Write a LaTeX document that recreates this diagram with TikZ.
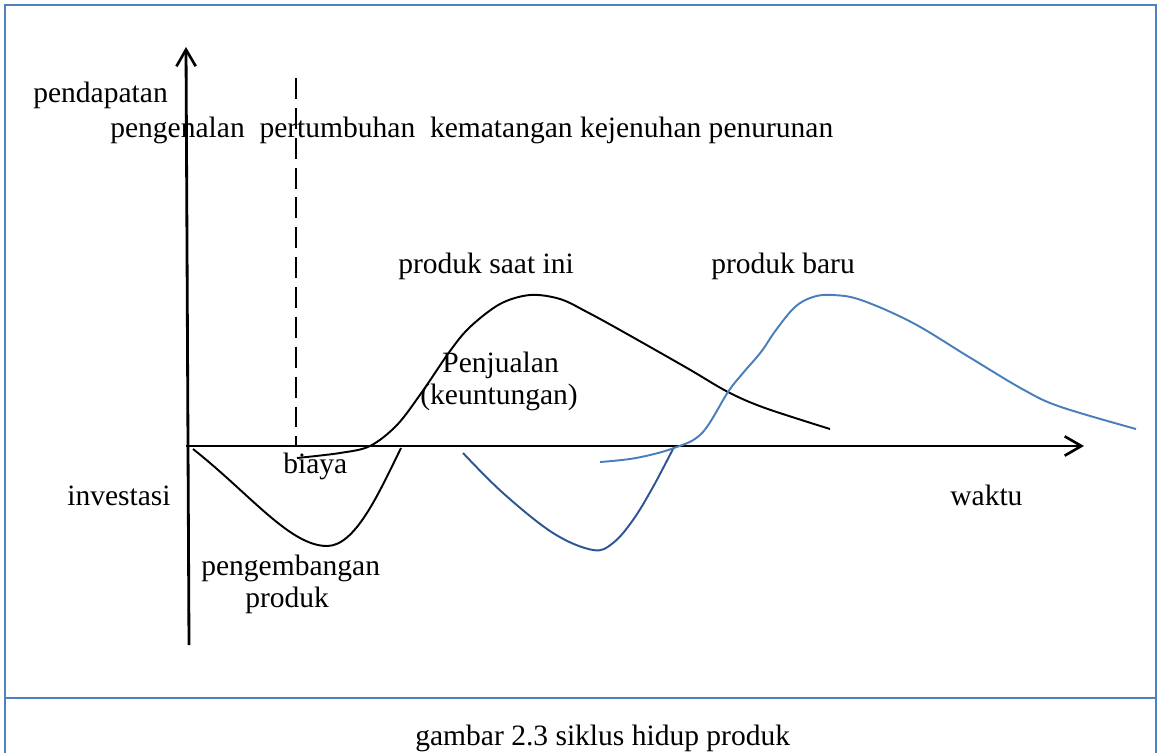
\documentclass[tikz,border=0pt]{standalone}
\usepackage{fontspec}
\setmainfont{Liberation Serif}
\usetikzlibrary{arrows.meta}
\definecolor{frameblue}{RGB}{79,129,189}
\definecolor{lightblue}{RGB}{74,126,187}
\definecolor{darkblue}{RGB}{44,85,146}
\begin{document}
\begin{tikzpicture}[x=0.02cm,y=-0.02cm,
  lbl/.style={inner sep=0pt,anchor=base west,font=\fontsize{16.8}{20}\selectfont},
  axisline/.style={line width=1.6pt,-{Straight Barb[length=9.5pt,width=11pt,line width=1.5pt]}},
  curve/.style={line width=1.1pt},
  framelin/.style={draw=frameblue,line width=1.3pt}]
\useasboundingbox (0,0) rectangle (1159,753);
% frame
\coordinate (fbl) at (5,760);
\coordinate (ftl) at (5,5);
\coordinate (ftr) at (1156,5);
\coordinate (fbr) at (1156,760);
\coordinate (dl) at (5,698);
\coordinate (dr) at (1156,698);
\draw[framelin] (fbl) -- (ftl) -- (ftr) -- (fbr);
\draw[framelin] (dl) -- (dr);
% axes
\coordinate (ybot) at (189,645);
\coordinate (ytop) at (186,47);
\coordinate (xstart) at (186,446);
\coordinate (xend) at (1084,446);
\draw[axisline] (ybot) -- (ytop);
\draw[axisline] (xstart) -- (xend);
% dashed line
\coordinate (dtop) at (296,78);
\coordinate (dbot) at (296,446);
\draw[line width=1.1pt,dash pattern=on 11.9pt off 5.1pt] (dtop) -- (dbot);
% curves
\coordinate (c1a) at (193,449);
\coordinate (c1m) at (327,546);
\coordinate (c1b) at (401,448);
\draw[curve] (c1a) .. controls (250,494) and (290,546) .. (c1m) .. controls (355,546) and (378,495) .. (c1b);
\draw[curve] plot[smooth,tension=0.55] coordinates {(297,458) (340,453) (370,446) (397,425) (422,392) (450,351) (470,327) (500,304) (530,295) (560,299) (587,312) (620,330) (687,368) (728,392) (765,408) (830,429)};
\draw[curve,darkblue] plot[smooth,tension=0.6] coordinates {(463,453) (503,493) (553,533) (593,550) (613,543) (633,520) (653,487) (674,447)};
\draw[curve,lightblue] plot[smooth,tension=0.6] coordinates {(600,462) (636,458) (674,448) (702,433) (728,392) (743,373) (761,352) (776,330) (795,307) (813,297) (832,295) (861,300) (913,323) (969,357) (1024,390) (1061,407) (1136,429)};
% labels
\node[lbl] (pendapatan) at (33,103) {pendapatan};
\node[lbl] (tahap) at (110,138) {pengenalan\ \ pertumbuhan\ \ kematangan kejenuhan penurunan};
\node[lbl] (saatini) at (398,274) {produk saat ini};
\node[lbl] (baru) at (711,274) {produk baru};
\node[lbl] (penjualan) at (442,372) {Penjualan};
\node[lbl] (keuntungan) at (420,404) {(keuntungan)};
\node[lbl] (biaya) at (283,473) {biaya};
\node[lbl] (investasi) at (67,505) {investasi};
\node[lbl] (waktu) at (950,505) {waktu};
\node[lbl] (pengembangan) at (201,575) {pengembangan};
\node[lbl] (produk) at (245,607) {produk};
\node[lbl] (caption) at (415,745) {gambar 2.3 siklus hidup produk};
\end{tikzpicture}
\end{document}
